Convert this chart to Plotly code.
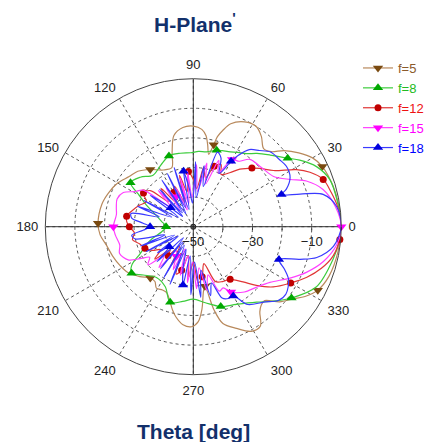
import plotly.graph_objects as go

# ---------------- data (theta in degrees, r in dB) ----------------
THETA_F5 = [0, 8, 16, 25, 30, 35, 40, 44, 48, 53,
            58, 64, 70, 73, 75, 76, 78, 80, 82, 85,
            90, 96, 102, 106, 110, 118, 127, 135, 142, 150,
            158, 166, 178, 185, 192, 200, 208, 215, 223, 230,
            235, 239, 244, 248, 252, 256, 259, 264, 269, 273,
            276, 279, 281, 284, 287, 293, 299, 304, 308, 311,
            314, 319, 324, 328, 333, 340, 350, 360]
R_F5 = [0, -0.3, -0.8, -1.9, -3.5, -6.5, -10, -13.5, -14.5, -11.8,
        -10, -10.6, -13, -16, -18.5, -21.5, -25, -22, -19, -17,
        -16, -16.3, -18.5, -24, -28.8, -28.3, -25.8, -23.5, -22.5, -20.5,
        -19.2, -18.2, -17.8, -18.4, -20, -21, -22, -23, -25.3, -27.4,
        -27.4, -25.8, -26.2, -26, -24, -21, -19, -16.7, -16.2, -17.9,
        -22, -28, -29.5, -21, -15.8, -12.7, -9.6, -9.5, -13.5, -15,
        -15.3, -11.3, -8.5, -5.5, -2.8, -1.2, -0.4, 0]
MK_F5 = [25, 76, 127, 178, 230, 281, 333]

THETA_F8 = [0, 10, 19, 26, 32, 36, 43, 49, 54, 58,
            65, 69, 73, 80, 86, 92, 100, 109, 118, 128,
            137, 145, 150, 156, 162, 170, 180, 189, 196, 201,
            207, 212, 217, 224, 234, 245, 253, 262, 270, 279,
            289, 299, 310, 318, 324, 334, 347, 355, 360]
R_F8 = [0, -0.6, -1.2, -3.7, -7.6, -10.6, -14.5, -17.2, -19.5, -20.5,
        -22, -22.5, -23, -24.3, -24.5, -25, -24.8, -24.7, -26.5, -27.9,
        -25.5, -24.1, -29, -33, -36.5, -39, -40.8, -39.2, -35.6, -33,
        -29.8, -25.5, -23.9, -26.5, -28.8, -27.6, -23.3, -24.5, -25.5, -24,
        -21.5, -20, -16.7, -12.5, -9, -3.7, -1.5, -0.4, 0]
MK_F8 = [36, 73, 109, 145, 180, 217, 253, 289, 324]

THETA_F12 = [0, 8, 14, 20, 25, 29, 35, 41, 45, 51,
             56, 62, 66, 71, 76, 80, 85, 90, 95, 100,
             105, 110, 115, 120, 125, 130, 135, 140, 146, 152,
             158, 164, 171, 176, 180, 186, 192, 198, 204, 210,
             215, 220, 225, 229, 235, 240, 245, 250, 255, 260,
             265, 270, 275, 280, 286, 292, 298, 305, 312, 317,
             323, 330, 336, 342, 348, 355, 360]
R_F12 = [0, -0.8, -2, -3.3, -6.5, -10.2, -16.9, -20, -22, -25,
         -28, -30, -27, -28.4, -33, -29.5, -37, -34, -31.3, -38,
         -32, -41, -35, -36.7, -40, -33, -38, -31, -29.7, -32,
         -30.5, -29, -27.2, -27.5, -28.4, -30, -29, -31, -32.1, -34,
         -36.5, -33, -39, -37, -42, -35, -40, -33, -34.8, -40,
         -33, -38, -31, -32.8, -37, -30, -29, -28.3, -24.9, -20.9,
         -16.2, -12, -8, -4.5, -1.8, -0.3, 0]
MK_F12 = [20, 45, 71, 95, 120, 146, 171, 180, 204, 229, 255, 280, 305, 330, 355]

THETA_F15 = [0, 8, 16, 22, 26, 32, 41, 50, 55, 60,
             65, 69, 74, 78, 83, 87, 92, 96, 101, 105,
             110, 114, 120, 125, 130, 134, 139, 144, 149, 154,
             160, 166, 171, 180, 186, 194, 200, 207, 211, 215,
             220, 225, 230, 235, 240, 245, 250, 255, 260, 264,
             269, 273, 278, 282, 287, 292, 296, 300, 308, 316,
             324, 332, 338, 345, 353, 360]
R_F15 = [0, -1.5, -4.4, -8.8, -13.6, -18, -19.5, -20.3, -23, -23.8,
         -30, -26, -35, -28, -38, -29, -40, -31, -42, -33,
         -44, -36, -38.3, -34, -43, -33, -40, -29, -27, -23.7,
         -22.6, -23.2, -23.7, -23, -23.5, -24.4, -23.5, -25.3, -29, -32,
         -30, -36, -32, -40, -38.5, -34, -42, -33, -40, -31,
         -38, -29, -36, -28, -33, -26.5, -27, -24.5, -22, -20.5,
         -18, -13, -8.8, -4.5, -1.1, 0]
MK_F15 = [0, 60, 120, 180, 240, 300]

THETA_F18 = [0, 8, 14, 17, 20, 22, 27, 33, 38, 44,
             49, 54, 58, 60, 64, 68, 72, 76, 80, 84,
             88, 92, 96, 100, 104, 108, 112, 116, 120, 124,
             128, 132, 136, 140, 144, 148, 152, 156, 160, 164,
             168, 172, 176, 180, 184, 188, 192, 196, 200, 204,
             208, 212, 216, 220, 224, 228, 232, 236, 240, 244,
             248, 252, 256, 260, 264, 268, 272, 276, 280, 284,
             288, 292, 296, 300, 305, 313, 319, 324, 331, 335,
             339, 343, 346, 352, 360]
R_F18 = [0, -1.1, -4.8, -12.3, -18.3, -16.1, -13.3, -12.5, -13.1, -13.7,
         -15.9, -17.8, -21.7, -24.5, -30, -25, -23.5, -36, -29, -40,
         -28, -42, -37, -31, -44, -29, -43, -30, -45, -31,
         -44, -33, -45, -40, -32, -44, -31, -42, -30, -38,
         -28.5, -29, -33, -35.4, -33, -29, -30, -40, -31, -43,
         -32, -44, -35, -39.4, -33, -45, -32, -44, -30, -43,
         -29, -42, -36, -30, -40, -27, -38, -26, -35, -26,
         -30, -24, -23, -23, -17.9, -15.2, -12, -11.3, -13.2, -16,
         -19, -12.3, -7, -2.2, 0]
MK_F18 = [20, 60, 100, 140, 180, 220, 260, 300, 339]

NAMES = ["f=5", "f=8", "f=12", "f=15", "f=18"]
R_RANGE = [-50, 0]
R_DTICK = 10
R_TICKS = [-50, -40, -30, -20, -10, 0]
R_TICKTEXT = ["-50", "", "-30", "", "-10", ""]
A_TICKS = [0, 30, 60, 90, 120, 150, 180, 210, 240, 270, 300, 330]
A_TICKTEXT = ["0", "30", "60", "90", "120", "150", "180", "210", "240", "270", "300", "330"]
TITLE = "H-Plane<sup>'</sup>"
XTITLE = "Theta [deg]"

# ---------------- styles ----------------
STYLES = [
    dict(line="#b8895c", marker="#7a4a10", text="#8b5a2b", symbol="triangle-down", size=9),
    dict(line="#3ccc3c", marker="#00a800", text="#22bb22", symbol="triangle-up", size=9),
    dict(line="#e03535", marker="#c00000", text="#ee1111", symbol="circle", size=7),
    dict(line="#ff40ff", marker="#ff00ff", text="#ff00ff", symbol="triangle-down", size=9),
    dict(line="#3a3aff", marker="#0000dd", text="#0000ff", symbol="triangle-up", size=9),
]
SERIES = [
    (THETA_F5, R_F5, MK_F5),
    (THETA_F8, R_F8, MK_F8),
    (THETA_F12, R_F12, MK_F12),
    (THETA_F15, R_F15, MK_F15),
    (THETA_F18, R_F18, MK_F18),
]

FONT = "Liberation Sans, Arial, sans-serif"
NAVY = "#12306b"

fig = go.Figure()

# cross axis lines through centre
for a in (0, 90):
    fig.add_trace(go.Scatterpolar(
        r=[R_RANGE[1], R_RANGE[1]], theta=[a, a + 180], mode="lines",
        line=dict(color="#333333", width=1), showlegend=False, hoverinfo="skip"))

for name, (th, rr, mk), st in zip(NAMES, SERIES, STYLES):
    lookup = dict(zip(th, rr))
    fig.add_trace(go.Scatterpolar(
        r=rr, theta=th, mode="lines",
        line=dict(color=st["line"], width=1.2, shape="spline", smoothing=0.9),
        showlegend=False, hoverinfo="skip"))
    fig.add_trace(go.Scatterpolar(
        r=[lookup[t] for t in mk], theta=mk, mode="markers",
        marker=dict(symbol=st["symbol"], size=st["size"], color=st["marker"],
                    line=dict(width=0)),
        showlegend=False, hoverinfo="skip"))
    fig.add_trace(go.Scatterpolar(
        r=[None], theta=[None], mode="lines+markers",
        name=f"<span style='color:{st['text']}'>{name}</span>",
        line=dict(color=st["line"], width=1.2),
        marker=dict(symbol=st["symbol"], size=st["size"], color=st["marker"])))

# centre mark
fig.add_trace(go.Scatterpolar(
    r=[R_RANGE[0]], theta=[0], mode="markers",
    marker=dict(symbol="circle-open-dot", size=5, color="#222", line=dict(width=1)),
    showlegend=False, hoverinfo="skip"))

W, H = 429, 442
cx, cy, rad = 193.3, 226.7, 148
fig.update_layout(
    width=W, height=H,
    margin=dict(l=0, r=0, t=0, b=0),
    paper_bgcolor="white",
    font=dict(family=FONT, size=13, color="#222"),
    polar=dict(
        domain=dict(x=[(cx - rad) / W, (cx + rad) / W],
                    y=[(H - cy - rad) / H, (H - cy + rad) / H]),
        bgcolor="white",
        radialaxis=dict(range=R_RANGE, angle=0, side="clockwise",
                        showline=False, ticks="outside", ticklen=3,
                        tickcolor="#333", gridcolor="#555555", griddash="dot",
                        gridwidth=1, tickfont=dict(size=13, color="#222")),
        angularaxis=dict(rotation=0, direction="counterclockwise",
                         tickmode="array", tickvals=A_TICKS, ticktext=A_TICKTEXT,
                         ticks="outside", ticklen=4, tickcolor="rgba(0,0,0,0)",
                         showline=True, linecolor="#444444", linewidth=1,
                         gridcolor="#555555", griddash="dot", gridwidth=1,
                         tickfont=dict(size=13, color="#222")),
    ),
    legend=dict(x=358 / W, y=1 - 53 / H, xanchor="left", yanchor="top",
                font=dict(size=13), bgcolor="rgba(0,0,0,0)",
                tracegroupgap=0, itemwidth=30),
    annotations=[
        dict(text=f"<b>{TITLE}</b>", x=195 / W, y=1 - 23 / H, xref="paper",
             yref="paper", showarrow=False, xanchor="center", yanchor="middle",
             font=dict(size=21, color=NAVY, family=FONT)),
        dict(text=f"<b>{XTITLE}</b>", x=193 / W, y=1 - 431 / H, xref="paper",
             yref="paper", showarrow=False, xanchor="center", yanchor="middle",
             font=dict(size=21, color=NAVY, family=FONT)),
    ],
)

# radial ticks every 10 dB, labels on every second tick
try:
    fig.update_layout(polar_radialaxis=dict(tickmode="linear", tick0=R_RANGE[0],
                                            dtick=R_DTICK, ticklabelstep=2))
except ValueError:
    fig.update_layout(polar_radialaxis=dict(tickmode="array", tickvals=R_TICKS,
                                            ticktext=R_TICKTEXT))

fig.write_html("out.html",
               config={"displayModeBar": False},
               post_script="document.body.style.margin='0';"
                           "document.body.style.overflow='hidden';")
